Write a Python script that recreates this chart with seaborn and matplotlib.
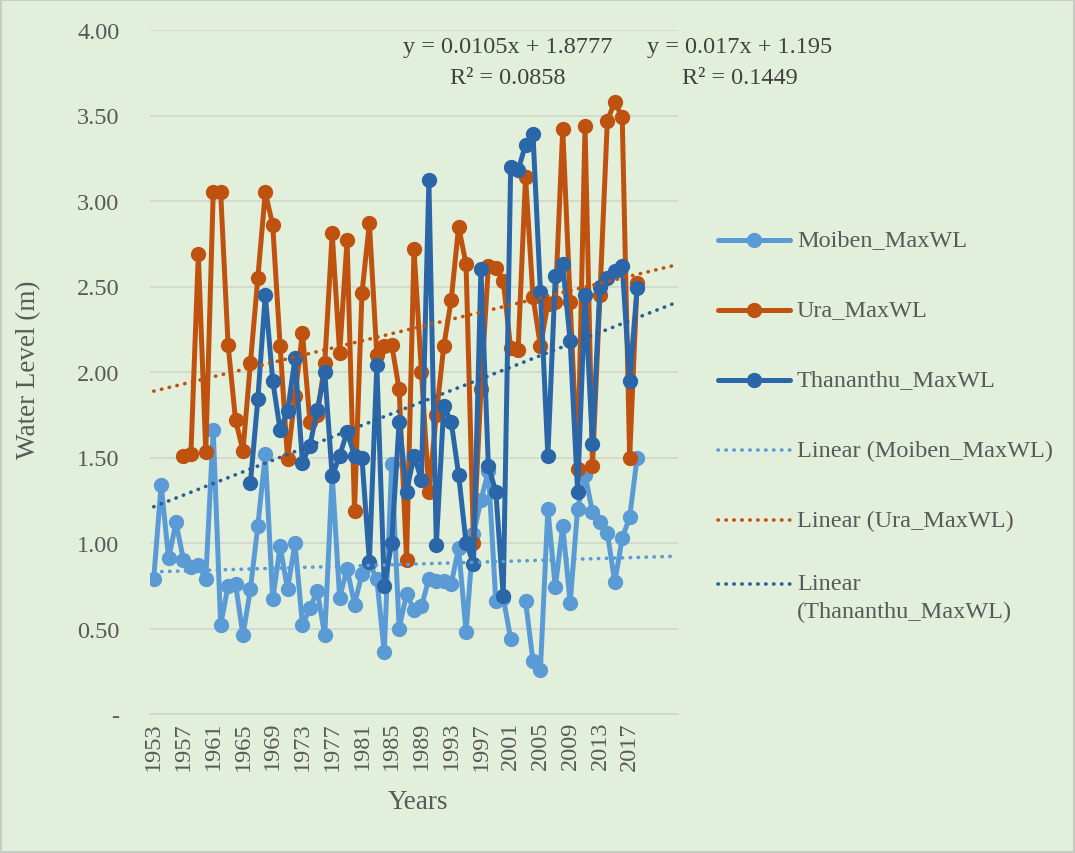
import numpy as np
import pandas as pd
import matplotlib
matplotlib.use("Agg")
import matplotlib.pyplot as plt
import seaborn as sns
from matplotlib.lines import Line2D
from matplotlib.patches import Rectangle

# ---------------- data ----------------
years = list(range(1953, 2019))

moiben = [0.79, 1.34, 0.91, 1.12, 0.90, 0.86, 0.87, 0.79, 1.66, 0.52,   # 1953-1962
          0.75, 0.76, 0.46, 0.73, 1.10, 1.52, 0.67, 0.98, 0.73, 1.00,   # 1963-1972
          0.52, 0.62, 0.72, 0.46, 1.40, 0.68, 0.85, 0.64, 0.82, 0.88,   # 1973-1982
          0.79, 0.36, 1.46, 0.50, 0.70, 0.61, 0.63, 0.79, 0.78, 0.78,   # 1983-1992
          0.76, 0.97, 0.48, 1.05, 1.25, 1.42, 0.66, 0.68, 0.44, np.nan, # 1993-2002
          0.66, 0.31, 0.26, 1.20, 0.74, 1.10, 0.65, 1.20, 1.40, 1.18,   # 2003-2012
          1.12, 1.06, 0.77, 1.03, 1.15, 1.50]                           # 2013-2018

ura = [np.nan, np.nan, np.nan, np.nan, 1.51, 1.52, 2.69, 1.53, 3.05, 3.05,  # 1953-1962
       2.16, 1.72, 1.54, 2.05, 2.55, 3.05, 2.86, 2.15, 1.49, 1.86,          # 1963-1972
       2.23, 1.71, 1.75, 2.05, 2.81, 2.11, 2.77, 1.19, 2.46, 2.87,          # 1973-1982
       2.10, 2.15, 2.16, 1.90, 0.90, 2.72, 2.00, 1.30, 1.75, 2.15,          # 1983-1992
       2.42, 2.85, 2.63, 1.00, 1.90, 2.62, 2.61, 2.53, 2.14, 2.13,          # 1993-2002
       3.14, 2.44, 2.15, 2.40, 2.41, 3.42, 2.41, 1.43, 3.44, 1.45,          # 2003-2012
       2.45, 3.47, 3.58, 3.49, 1.50, 2.52]                                  # 2013-2018

thananthu = [np.nan] * 13 + [                                             # 1953-1965
       1.35, 1.84, 2.45, 1.95, 1.66, 1.77, 2.08,                          # 1966-1972
       1.47, 1.57, 1.78, 2.00, 1.39, 1.51, 1.65, 1.51, 1.50, 0.89,        # 1973-1982
       2.04, 0.75, 1.00, 1.71, 1.30, 1.51, 1.37, 3.12, 0.99, 1.80,        # 1983-1992
       1.71, 1.40, 1.00, 0.88, 2.60, 1.45, 1.30, 0.69, 3.20, 3.18,        # 1993-2002
       3.33, 3.39, 2.47, 1.51, 2.56, 2.63, 2.18, 1.30, 2.45, 1.58,        # 2003-2012
       2.50, 2.55, 2.59, 2.62, 1.95, 2.49]                                # 2013-2018

series_names = ["Moiben_MaxWL", "Ura_MaxWL", "Thananthu_MaxWL"]
series_values = [moiben, ura, thananthu]

# linear trendlines (x = category index, 1 = 1953), forecast to 2023
trend_slope = [0.0013, 0.0105, 0.017]
trend_intercept = [0.83, 1.8777, 1.195]
trend_last_year = 2023
eq_labels = ["y = 0.0105x + 1.8777", "y = 0.017x + 1.195"]
r2_labels = ["R\u00b2 = 0.0858", "R\u00b2 = 0.1449"]
legend_labels = ["Moiben_MaxWL", "Ura_MaxWL", "Thananthu_MaxWL",
                 "Linear (Moiben_MaxWL)", "Linear (Ura_MaxWL)",
                 "Linear\n(Thananthu_MaxWL)"]

y_ticks = [0.0, 0.5, 1.0, 1.5, 2.0, 2.5, 3.0, 3.5, 4.0]
y_tick_labels = ["-", "0.50", "1.00", "1.50", "2.00", "2.50", "3.00", "3.50", "4.00"]
x_tick_years = list(range(1953, 2018, 4))

# ---------------- style ----------------
BG = "#E2EFDA"
GRID = "#D0D8CC"
TXT = "#595959"
colors = ["#5B9BD5", "#BF520F", "#2A66A8"]
trend_colors = ["#5B9BD5", "#BF520F", "#2A5F95"]
FS = 17.5

sns.set_theme(style="white")
plt.rcParams["font.family"] = ["Liberation Serif", "DejaVu Serif"]

W, H = 1075, 854
fig = plt.figure(figsize=(W / 100, H / 100), dpi=100, facecolor=BG)
L, R, T, B = 150, 678, 31, 715
ax = fig.add_axes([L / W, 1 - B / H, (R - L) / W, (B - T) / H])
ax.set_facecolor(BG)

# series
for vals, col, name, z in zip(series_values, colors, series_names, [3, 4, 5]):
    df = pd.DataFrame({"Year": years, "WL": vals})
    df["seg"] = df["WL"].isna().cumsum()
    df = df.dropna()
    for _, g in df.groupby("seg"):
        sns.lineplot(data=g, x="Year", y="WL", ax=ax, color=col, lw=3.6,
                     marker="o", markersize=10, markeredgecolor=col,
                     markeredgewidth=1.0, estimator=None, sort=False,
                     legend=False, zorder=z)

# trendlines
idx = np.arange(1, trend_last_year - years[0] + 2)
tx = years[0] - 1 + idx
for s, b, col in zip(trend_slope, trend_intercept, trend_colors):
    ty = b + s * idx
    sns.lineplot(x=tx, y=ty, ax=ax, color=col, lw=2.6,
                 linestyle=(0, (0.1, 2.1)), dash_capstyle="round",
                 legend=False, zorder=6)

ax.set_xlim(years[0] - 0.5, trend_last_year + 0.5)
ax.set_ylim(0, 4.0)
ax.set_yticks(y_ticks)
ax.set_yticklabels(y_tick_labels)
ax.set_xticks(x_tick_years)
ax.set_xticklabels([str(y) for y in x_tick_years], rotation=90)
ax.tick_params(axis="both", length=0, labelsize=FS, colors=TXT)
ax.tick_params(axis="y", pad=22)
ax.tick_params(axis="x", pad=5)
ax.yaxis.grid(True, color=GRID, lw=1.3)
ax.xaxis.grid(False)
ax.set_axisbelow(True)
for sp in ["left", "right", "top"]:
    ax.spines[sp].set_visible(False)
ax.spines["bottom"].set_color(GRID)
ax.spines["bottom"].set_linewidth(1.3)

ax.set_xlabel("Years", fontsize=19.5, color=TXT)
ax.set_ylabel("")
ax.xaxis.set_label_coords((418 - L) / (R - L), (B - 790) / (B - T))
fig.text(29 / W, 1 - 370 / H, "Water Level (m)", rotation=90, ha="center", va="center",
         fontsize=19.5, color=TXT)

# trendline equations
for lab, r2, cx in zip(eq_labels, r2_labels, [508, 740]):
    fig.text(cx / W, 1 - 48 / H, lab, ha="center", va="center", fontsize=FS, color="#404040")
    fig.text(cx / W, 1 - 79 / H, r2, ha="center", va="center", fontsize=FS, color="#404040")

# legend (manual)
leg_y = [241, 311, 381, 451, 521, 585]
for i, (lab, y) in enumerate(zip(legend_labels, leg_y)):
    yf = 1 - y / H
    if i < 3:
        fig.add_artist(Line2D([718 / W, 790 / W], [yf, yf], transform=fig.transFigure,
                              color=colors[i], lw=3.6))
        fig.add_artist(Line2D([754 / W], [yf], transform=fig.transFigure, color=colors[i],
                              marker="o", markersize=10, markeredgecolor=colors[i]))
    else:
        fig.add_artist(Line2D([718 / W, 790 / W], [yf, yf], transform=fig.transFigure,
                              color=trend_colors[i - 3], lw=2.6, linestyle=(0, (0.1, 2.1)),
                              dash_capstyle="round"))
    if "\n" in lab:
        first, second = lab.split("\n")
        fig.text(797 / W, yf, first, ha="left", va="center", fontsize=FS, color=TXT)
        fig.text(797 / W, 1 - (y + 27) / H, second, ha="left", va="center", fontsize=FS, color=TXT)
    else:
        fig.text(797 / W, yf, lab, ha="left", va="center", fontsize=FS, color=TXT)

fig.patches.append(Rectangle((0.001, 0.001), 0.998, 0.998, transform=fig.transFigure,
                             fill=False, edgecolor="#C8CCC4", lw=1.5))

fig.savefig("out.png", dpi=100, facecolor=BG)
